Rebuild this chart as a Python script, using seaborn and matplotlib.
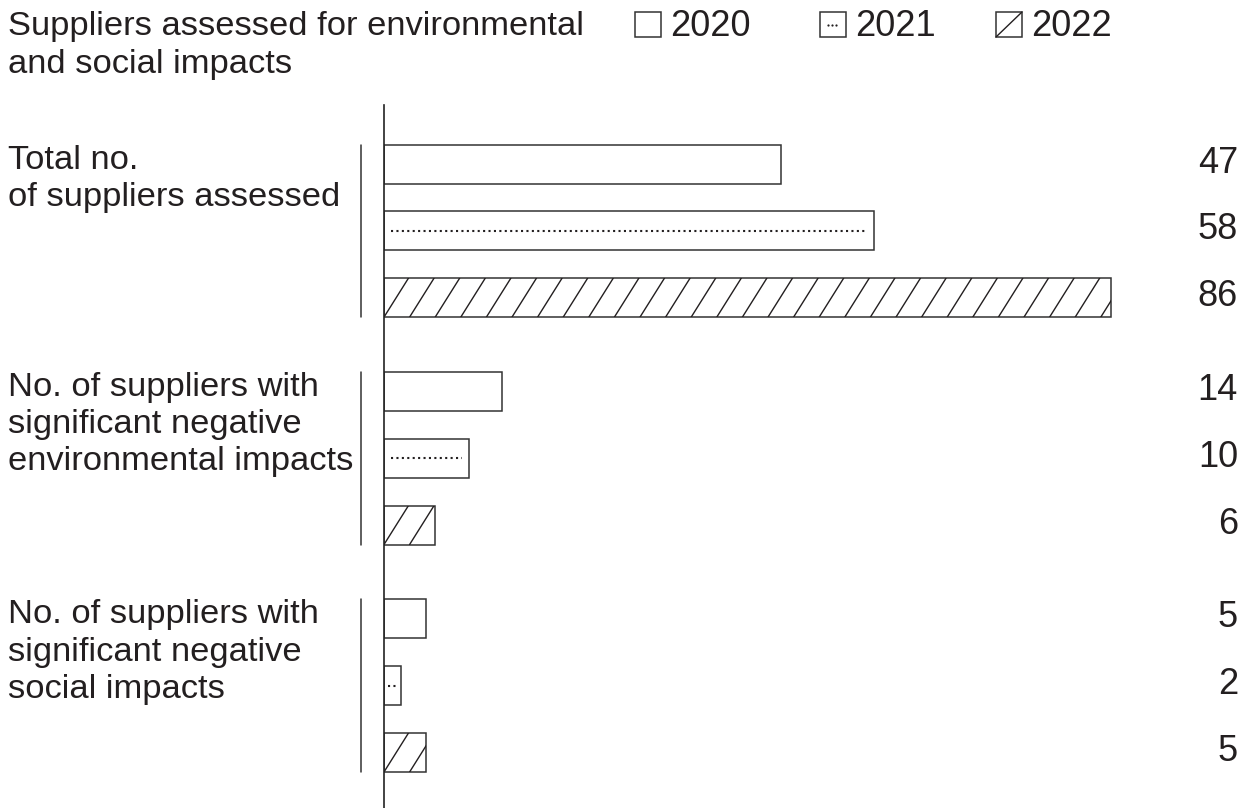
import matplotlib
matplotlib.use("Agg")
import matplotlib.pyplot as plt
import pandas as pd
import seaborn as sns
from matplotlib.lines import Line2D
from matplotlib.patches import Rectangle
from matplotlib.transforms import Affine2D, blended_transform_factory

# ---- data -------------------------------------------------------------
title = "Suppliers assessed for environmental\nand social impacts"
categories = [
    "Total no.\nof suppliers assessed",
    "No. of suppliers with\nsignificant negative\nenvironmental impacts",
    "No. of suppliers with\nsignificant negative\nsocial impacts",
]
years = ["2020", "2021", "2022"]
values_2020 = [47, 14, 5]
values_2021 = [58, 10, 2]
values_2022 = [86, 6, 5]

df = pd.DataFrame({
    "category": categories * len(years),
    "year": [y for y in years for _ in categories],
    "value": values_2020 + values_2021 + values_2022,
})

# ---- style ------------------------------------------------------------
sns.set_style("white")
plt.rcParams["font.family"] = ["Liberation Sans", "DejaVu Sans"]

INK = "#231f20"
EDGE = "#333333"
TEXT_SIZE = 24.8
NUM_SIZE = 26
W, H = 1254, 808
PX_PER_UNIT = 8.45          # horizontal scale of the value axis

fig = plt.figure(figsize=(W / 100, H / 100), dpi=100)
fig.patch.set_facecolor("white")
# pixel coordinates measured from the top-left corner of the figure
px = Affine2D().scale(1 / W, -1 / H).translate(0, 1) + fig.transFigure

ax = fig.add_axes([384 / W, 0, (W - 384) / W, (H - 105) / H])
ax.set_facecolor("none")

sns.barplot(
    data=df, y="category", x="value", hue="year",
    order=categories, hue_order=years, orient="h",
    palette=["white"] * 3, saturation=1, errorbar=None,
    width=0.881, gap=0.416, legend=False,
    edgecolor=EDGE, linewidth=1.1, ax=ax,
)

bars_2020, bars_2021, bars_2022 = ax.containers[:3]

# 2021 bars: a dotted rule through the middle of each bar
for bar in bars_2021:
    x0, w = bar.get_x(), bar.get_width()
    yc = bar.get_y() + bar.get_height() / 2
    inset = min(7 / PX_PER_UNIT, 0.25 * w)
    ax.plot([x0 + inset, x0 + w - inset], [yc, yc], color=INK,
            lw=1.5, linestyle=(0, (1, 1.6)), solid_capstyle="butt")

# 2022 bars: steep diagonal hatching clipped to each bar
hatch_step = 25.6 / PX_PER_UNIT
hatch_run = 24.5 / PX_PER_UNIT
for bar in bars_2022:
    x0, w = bar.get_x(), bar.get_width()
    y0, h = bar.get_y(), bar.get_height()
    k = 0
    while x0 + k * hatch_step < x0 + w:
        xb = x0 + k * hatch_step
        ln = Line2D([xb, xb + hatch_run], [y0 + h, y0], color=INK, lw=1.0)
        ax.add_line(ln)
        ln.set_clip_path(bar)
        k += 1

# value labels at the right edge
for cont, vals in zip((bars_2020, bars_2021, bars_2022),
                      (values_2020, values_2021, values_2022)):
    for bar, v in zip(cont, vals):
        yc = bar.get_y() + bar.get_height() / 2
        ax.annotate(f"{v}", xy=(1238 / W, yc),
                    xycoords=("figure fraction", "data"),
                    xytext=(0, -8.5), textcoords="offset pixels",
                    ha="right", va="baseline", fontsize=NUM_SIZE,
                    color=INK, annotation_clip=False)

# category labels with a bracket line beside each group
lab_tr = blended_transform_factory(fig.transFigure, ax.transData)
for i, cat in enumerate(categories):
    top = bars_2020[i].get_y()
    bot = bars_2022[i].get_y() + bars_2022[i].get_height()
    ax.text(7.5 / W, top, cat, transform=lab_tr, ha="left", va="top",
            fontsize=TEXT_SIZE, linespacing=1.26, color=INK, clip_on=False)
    ax.plot([361 / W, 361 / W], [top, bot], transform=lab_tr,
            color="#333333", lw=1.1, clip_on=False)

# axes cosmetics
ax.set_xlim(0, (W - 384) / PX_PER_UNIT)
ax.set_ylim(2.5377, -0.5531)
ax.set_xticks([])
ax.set_yticks([])
ax.set_xlabel("")
ax.set_ylabel("")
for side in ("top", "right", "bottom"):
    ax.spines[side].set_visible(False)
ax.spines["left"].set_color("#222222")
ax.spines["left"].set_linewidth(1.2)

# title
fig.text(7.5, 11.5, title, transform=px, ha="left", va="top",
         fontsize=TEXT_SIZE, linespacing=1.26, color=INK)

# legend
legend_boxes = [(635, "2020"), (820, "2021"), (996, "2022")]
for (bx, label), year in zip(legend_boxes, years):
    fig.add_artist(Rectangle((bx, 12), 26, 25, transform=px, facecolor="white",
                             edgecolor=EDGE, lw=1.1))
    fig.text(bx + 35.5, 36, year, transform=px, ha="left", va="baseline",
             fontsize=NUM_SIZE, color=INK)
# legend glyph details
fig.add_artist(Line2D([827.5, 831.8, 836.1], [24.5, 24.5, 24.5], transform=px,
                      linestyle="none", marker="o", markersize=1.6,
                      markeredgewidth=0, color=INK))
fig.add_artist(Line2D([996, 1022], [37, 12], transform=px, color=INK, lw=1.0))

fig.savefig("out.png", dpi=100, facecolor="white")
